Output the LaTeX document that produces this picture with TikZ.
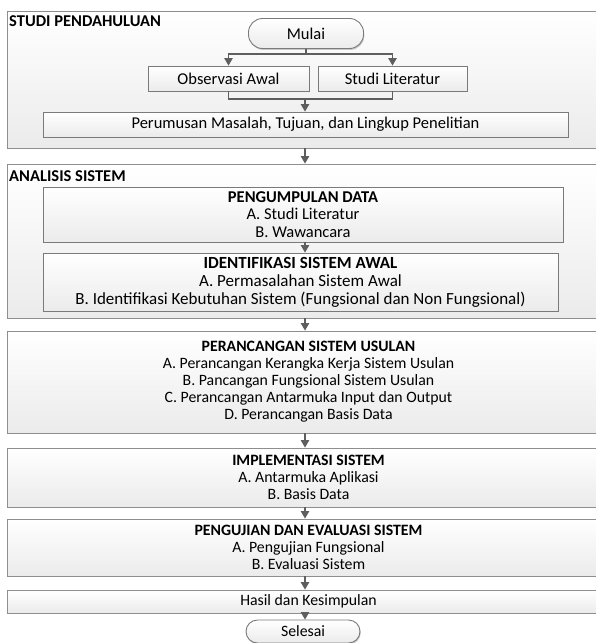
\documentclass[tikz,border=0pt]{standalone}
\usepackage{fontspec}
\setmainfont{Carlito}
\usetikzlibrary{arrows.meta,shadows}
\definecolor{edge}{HTML}{8E8E8E}
\definecolor{inedge}{HTML}{7A7A7A}
\definecolor{arrc}{HTML}{5E5E5E}
\definecolor{fillbot}{HTML}{EBEBEB}
\newcommand{\topfnt}{\fontsize{16.5}{17.5}\selectfont}
\newcommand{\isafnt}{\fontsize{17}{18}\selectfont}
\newcommand{\botfnt}{\fontsize{15.8}{17}\selectfont}
\tikzset{
  panel/.style={draw=edge, line width=0.9pt, top color=white, bottom color=fillbot,
    drop shadow={shadow xshift=0.8pt, shadow yshift=-1.4pt, opacity=0.4},
    inner sep=0pt, align=center},
  innerbox/.style={panel, draw=inedge},
  pill/.style={innerbox, rounded corners=14pt},
  ptitle/.style={inner sep=1.5pt, font=\topfnt\bfseries},
  ln/.style={draw=arrc, line width=1.1pt},
  arr/.style={ln, -{Triangle[width=8.5pt,length=7.5pt]}},
}
\begin{document}
\begin{tikzpicture}[x=1pt,y=-1pt, font=\botfnt]
\useasboundingbox (0,0) rectangle (595,643);
\coordinate (ax) at (305,0);

% ---- STUDI PENDAHULUAN ----
\node[panel, minimum width=603pt, minimum height=137pt] (sp) at (308.5,79.5) {};
\node[ptitle, anchor=north west] (spt) at (7.5,13.5) {STUDI PENDAHULUAN};
\node[pill, font=\topfnt, minimum width=115pt, minimum height=30pt] (mulai) at (306,33.5) {Mulai};
\node[innerbox, font=\topfnt, minimum width=161pt, minimum height=25pt] (obs) at (228.5,78.5) {Observasi Awal};
\node[innerbox, font=\topfnt, minimum width=149pt, minimum height=25pt] (stu) at (392.5,78.5) {Studi Literatur};
\node[innerbox, font=\topfnt, minimum width=525pt, minimum height=25pt] (per) at (305.5,124.5) {Perumusan Masalah, Tujuan, dan Lingkup Penelitian};
\coordinate (br) at (306,54);
\coordinate (mg) at (305,99);
\draw[ln] (mulai.south) -- (br);
\draw[arr] (br) -| (obs.north);
\draw[arr] (br) -| (stu.north);
\draw[ln] (obs.south) |- (mg);
\draw[ln] (stu.south) |- (mg);
\draw[arr] (mg) -- (per.north -| mg);

% ---- ANALISIS SISTEM ----
\node[panel, minimum width=603pt, minimum height=154pt] (as) at (308.5,241) {};
\node[ptitle, anchor=north west] (ast) at (7.5,168.5) {ANALISIS SISTEM};
\node[innerbox, font=\topfnt, minimum width=520pt, minimum height=55pt] (pd) at (303,214.5)
  {\textbf{PENGUMPULAN DATA}\\A. Studi Literatur\\B. Wawancara};
\node[innerbox, font=\isafnt, minimum width=515pt, minimum height=58pt] (isa) at (300.5,282)
  {\textbf{IDENTIFIKASI SISTEM AWAL}\\A. Permasalahan Sistem Awal\\B. Identifikasi Kebutuhan Sistem (Fungsional dan Non Fungsional)};
\draw[arr] (sp.south -| ax) -- (as.north -| ax);
\draw[arr] (pd.south -| ax) -- (isa.north -| ax);

% ---- PERANCANGAN ----
\node[panel, minimum width=603pt, minimum height=102pt] (psu) at (308.5,382)
  {\textbf{PERANCANGAN SISTEM USULAN}\\A. Perancangan Kerangka Kerja Sistem Usulan\\B. Pancangan Fungsional Sistem Usulan\\C. Perancangan Antarmuka Input dan Output\\D. Perancangan Basis Data};
\draw[arr] (as.south -| ax) -- (psu.north -| ax);

% ---- IMPLEMENTASI ----
\node[panel, minimum width=603pt, minimum height=59pt] (imp) at (308.5,477.5)
  {\textbf{IMPLEMENTASI SISTEM}\\A. Antarmuka Aplikasi\\B. Basis Data};
\draw[arr] (psu.south -| ax) -- (imp.north -| ax);

% ---- PENGUJIAN ----
\node[panel, minimum width=603pt, minimum height=57pt] (peng) at (308.5,547.5)
  {\textbf{PENGUJIAN DAN EVALUASI SISTEM}\\A. Pengujian Fungsional\\B. Evaluasi Sistem};
\draw[arr] (imp.south -| ax) -- (peng.north -| ax);

% ---- HASIL ----
\node[panel, minimum width=603pt, minimum height=23pt] (hasil) at (308.5,601.5) {Hasil dan Kesimpulan};
\draw[arr] (peng.south -| ax) -- (hasil.north -| ax);

\node[pill, minimum width=114pt, minimum height=23pt, rounded corners=11.5pt] (selesai) at (303,631.5) {Selesai};
\draw[arr] (hasil.south -| ax) -- (selesai.north -| ax);
\end{tikzpicture}
\end{document}
